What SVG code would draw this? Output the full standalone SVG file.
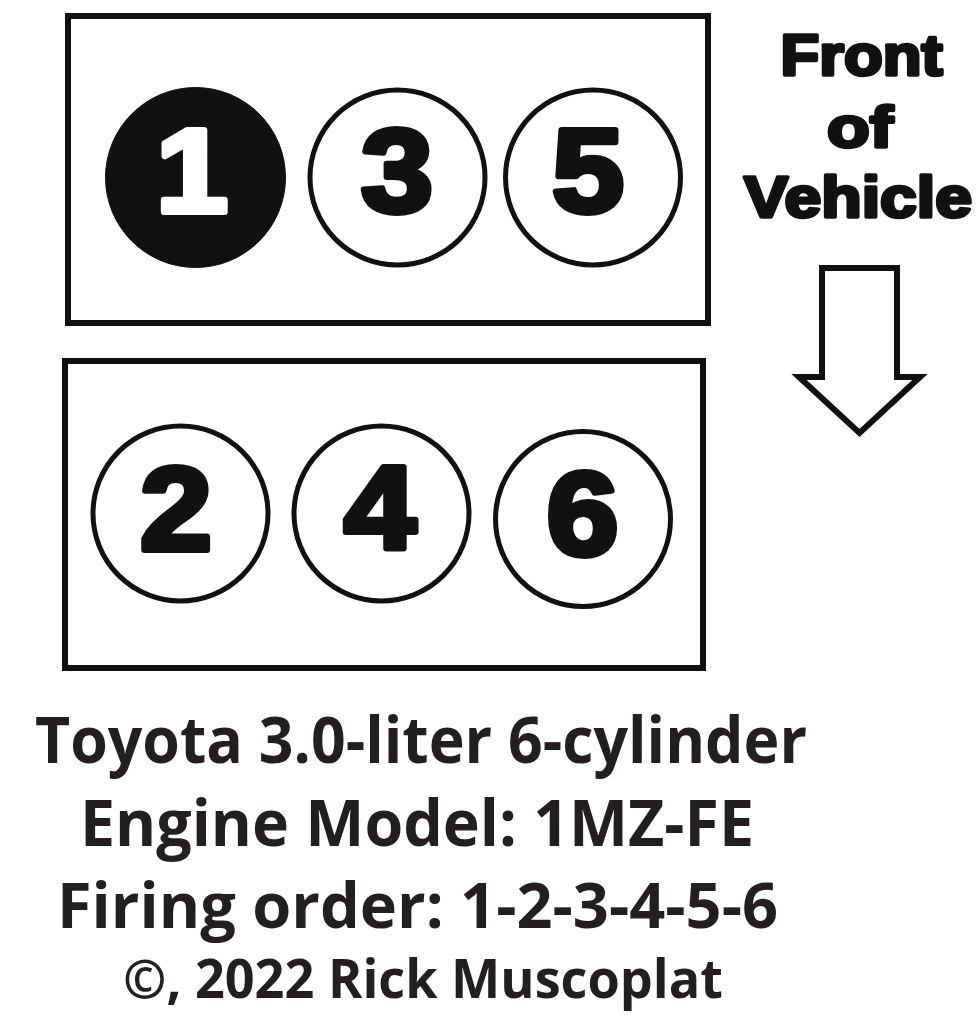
<svg xmlns="http://www.w3.org/2000/svg" width="977" height="1024" viewBox="0 0 977 1024">
  <style>
    .bank { fill: none; stroke: #111; stroke-width: 6; }
    .cyl { fill: #fff; stroke: #111; stroke-width: 5; }
    .cylfill { fill: #111; stroke: #111; stroke-width: 1; }
    .num { font-family: "Liberation Sans", Arial, sans-serif; font-weight: 700; font-size: 119px; text-anchor: middle; fill: #111; stroke: #111; stroke-width: 6; stroke-linejoin: round; }
    .num.white { fill: #fff; stroke: #fff; }
    .front { font-family: "Liberation Sans", Arial, sans-serif; font-weight: 700; font-size: 57px; text-anchor: middle; fill: #111; stroke: #111; stroke-width: 3.5; stroke-linejoin: round; }
    .caption { font-family: "Open Sans", "Noto Sans", "Liberation Sans", sans-serif; font-weight: 700; fill: #231f20; }
    .arrow { fill: #fff; stroke: #111; stroke-width: 6; stroke-linejoin: miter; }
  </style>
  <rect x="0" y="0" width="977" height="1024" fill="#fff"/>

  <g id="bank-odd">
    <rect class="bank" x="68" y="16" width="640" height="307"/>
  </g>
  <g id="cyl-1">
    <circle class="cylfill" cx="195.5" cy="177.5" r="90"/>
    <text class="num white" x="192" y="212" textLength="72" lengthAdjust="spacingAndGlyphs">1</text>
  </g>
  <g id="cyl-3">
    <circle class="cyl" cx="397.5" cy="177.5" r="87.5"/>
    <text class="num" x="397" y="212" textLength="72" lengthAdjust="spacingAndGlyphs">3</text>
  </g>
  <g id="cyl-5">
    <circle class="cyl" cx="593" cy="177.5" r="87.5"/>
    <text class="num" x="588" y="212" textLength="72" lengthAdjust="spacingAndGlyphs">5</text>
  </g>

  <g id="bank-even">
    <rect class="bank" x="65" y="361" width="638" height="307"/>
  </g>
  <g id="cyl-2">
    <circle class="cyl" cx="180.5" cy="513.5" r="87.5"/>
    <text class="num" x="176" y="550" textLength="72" lengthAdjust="spacingAndGlyphs">2</text>
  </g>
  <g id="cyl-4">
    <circle class="cyl" cx="381.5" cy="513.5" r="87.5"/>
    <text class="num" x="380" y="549" textLength="72" lengthAdjust="spacingAndGlyphs">4</text>
  </g>
  <g id="cyl-6">
    <circle class="cyl" cx="583" cy="519" r="87.5"/>
    <text class="num" x="582.5" y="555" textLength="72" lengthAdjust="spacingAndGlyphs">6</text>
  </g>

  <g id="front-label">
    <text class="front" x="861.5" y="75" textLength="162" lengthAdjust="spacingAndGlyphs">Front</text>
    <text class="front" x="860" y="147" textLength="66" lengthAdjust="spacingAndGlyphs">of</text>
    <text class="front" x="858" y="217" textLength="228" lengthAdjust="spacingAndGlyphs">Vehicle</text>
  </g>

  <g id="connectors">
    <path class="arrow" d="M822,268 H897 V377 H920 L859.5,433 L799,377 H822 Z"/>
  </g>

  <g id="caption">
    <text class="caption" x="35" y="763" font-size="64" textLength="772" lengthAdjust="spacingAndGlyphs">Toyota 3.0-liter 6-cylinder</text>
    <text class="caption" x="80" y="846" font-size="64" textLength="674" lengthAdjust="spacingAndGlyphs">Engine Model: 1MZ-FE</text>
    <text class="caption" x="57" y="928" font-size="62" textLength="721" lengthAdjust="spacingAndGlyphs">Firing order: 1-2-3-4-5-6</text>
    <text class="caption" x="123" y="998" font-size="54" textLength="600" lengthAdjust="spacingAndGlyphs">©, 2022 Rick Muscoplat</text>
  </g>
</svg>
